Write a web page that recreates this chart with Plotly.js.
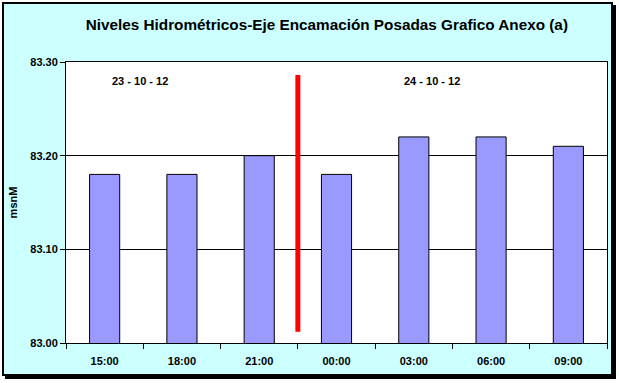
<!DOCTYPE html>
<html>
<head>
<meta charset="utf-8">
<script src="https://cdn.plot.ly/plotly-3.0.1.min.js"></script>
<style>
  html, body { margin:0; padding:0; background:#ffffff; }
  #frame { position:absolute; left:2px; top:2px; width:607px; height:370px; background:#CCFFFF; border:2px solid #000; box-shadow:3px 3px 0 #000; z-index:0; }
  #chart { position:absolute; left:0; top:0; width:619px; height:383px; z-index:1; }
</style>
</head>
<body>
<div id="frame"></div>
<div id="chart"></div>
<script>
const categories = ["15:00", "18:00", "21:00", "00:00", "03:00", "06:00", "09:00"];
const levels = [83.18, 83.18, 83.20, 83.18, 83.22, 83.22, 83.21];
const yTicks = [83.00, 83.10, 83.20, 83.30];
const yTickLabels = ["83.00", "83.10", "83.20", "83.30"];
const dateLabels = ["23 - 10 - 12", "24 - 10 - 12"];
const dateLabelX = [0.46, 4.24];
const dateLabelY = 83.28;
const dividerX = 2.5;
const dividerY = [83.012, 83.286];

const fontFam = "Arial, 'Liberation Sans', sans-serif";

const trace = {
  type: "bar",
  x: categories,
  y: levels,
  base: 0,
  marker: { color: "#9999FF", line: { color: "#000000", width: 1 } },
  hoverinfo: "skip"
};

const layout = {
  width: 619, height: 383,
  margin: { l: 66, r: 12, t: 62, b: 40 },
  paper_bgcolor: "rgba(0,0,0,0)",
  plot_bgcolor: "#ffffff",
  bargap: 0.61,
  showlegend: false,
  title: {
    text: "Niveles Hidrométricos-Eje Encamación Posadas Grafico Anexo (a)",
    font: { family: fontFam, size: 15.3, color: "#000", weight: "bold" },
    xref: "container", yref: "container", x: 0.528, y: 0.935, xanchor: "center", yanchor: "middle"
  },
  xaxis: {
    type: "category",
    showline: true, linecolor: "#000", linewidth: 1, mirror: true,
    ticks: "outside", tickson: "boundaries", ticklen: 5, tickcolor: "#000",
    ticklabelstandoff: 8,
    tickfont: { family: fontFam, size: 11, color: "#000", weight: "bold" },
    showgrid: false, zeroline: false, fixedrange: true
  },
  yaxis: {
    range: [83.00, 83.30],
    tickvals: yTicks, ticktext: yTickLabels,
    showline: true, linecolor: "#000", linewidth: 1, mirror: true,
    ticks: "outside", ticklen: 5, tickcolor: "#000",
    tickfont: { family: fontFam, size: 11, color: "#000", weight: "bold" },
    showgrid: true, gridcolor: "#000", gridwidth: 1,
    zeroline: false, fixedrange: true,
    title: { text: "msnM", font: { family: fontFam, size: 11, color: "#000", weight: "bold" }, standoff: 10 }
  },
  shapes: [{
    type: "line", xref: "x", yref: "y",
    x0: dividerX, x1: dividerX, y0: dividerY[0], y1: dividerY[1],
    line: { color: "#FF0000", width: 5 }
  }],
  annotations: dateLabels.map((t, i) => ({
    text: t, x: dateLabelX[i], y: dateLabelY, xref: "x", yref: "y",
    showarrow: false, font: { family: fontFam, size: 11, color: "#000", weight: "bold" }
  }))
};

Plotly.newPlot("chart", [trace], layout, { staticPlot: true, displayModeBar: false });
</script>
</body>
</html>
